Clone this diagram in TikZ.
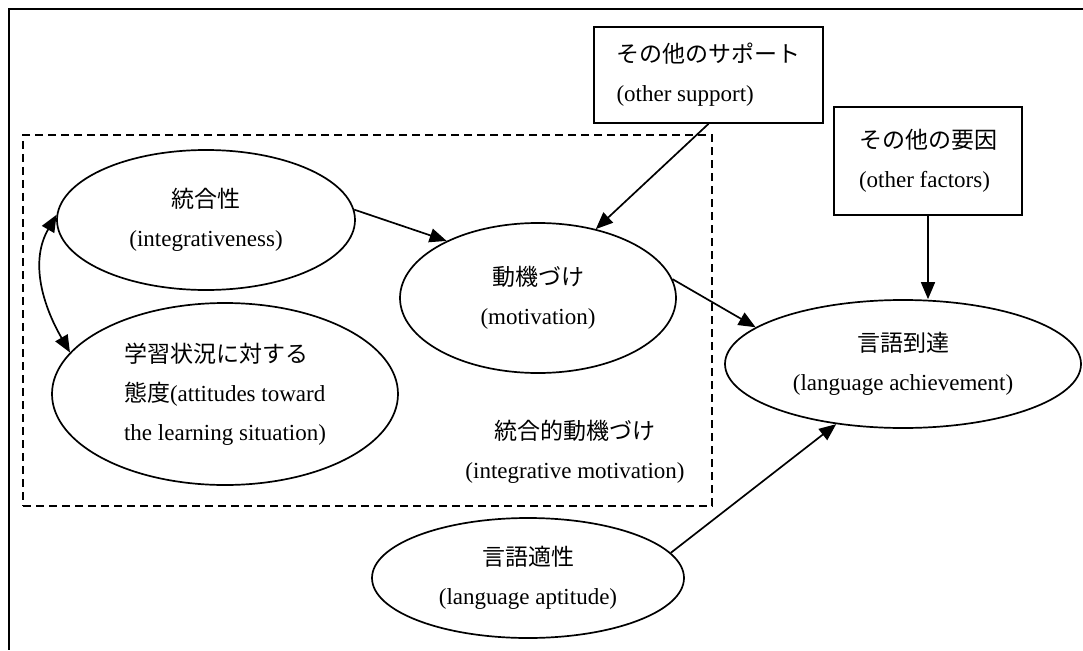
\documentclass[tikz,border=0pt]{standalone}
\usepackage{fontspec}
\setmainfont{Liberation Serif}
\newfontfamily\jp{Noto Sans CJK JP}
\usetikzlibrary{arrows.meta,shapes.geometric}
\begin{document}
\begin{tikzpicture}[x=1pt,y=-1pt,
  txt/.style={font=\fontsize{23}{39}\selectfont},
  ell/.style={draw, ellipse, line width=1.7pt, inner sep=0pt, align=center, txt},
  boxn/.style={draw, rectangle, line width=1.7pt, inner sep=0pt, align=left, txt},
  arr/.style={-{Triangle[length=17pt,width=14pt]}, line width=1.7pt},
  biarr/.style={{Triangle[length=17pt,width=14pt]}-{Triangle[length=17pt,width=14pt]}, line width=1.7pt},
  frameline/.style={line width=2.4pt},
  dashbox/.style={draw, rectangle, dash pattern=on 8pt off 5pt, line width=1.7pt, inner sep=0pt},
  lbl/.style={align=center, inner sep=0pt, txt}]
\useasboundingbox (0,0) rectangle (1083,650);
% outer frame (top and left)
\coordinate (ftr) at (1083,9);
\coordinate (ftl) at (9,9);
\coordinate (fbl) at (9,650);
\draw[frameline] (ftr) -- (ftl) -- (fbl);
% dashed group
\node[dashbox, minimum width=689pt, minimum height=371pt] (imbox) at (367.5,320.5) {};
% ellipses
\node[ell, minimum width=298pt, minimum height=140pt] (int) at (206,220)
  {{\jp 統合性}\\(integrativeness)};
\node[ell, align=left, minimum width=346pt, minimum height=182pt] (att) at (225,394)
  {{\jp 学習状況に対する}\\{\jp 態度}(attitudes toward\\the learning situation)};
\node[ell, minimum width=276pt, minimum height=150pt] (mot) at (538,298)
  {{\jp 動機づけ}\\(motivation)};
\node[ell, minimum width=356pt, minimum height=128pt] (ach) at (903,364)
  {{\jp 言語到達}\\(language achievement)};
\node[ell, minimum width=312pt, minimum height=120pt] (apt) at (528,578)
  {{\jp 言語適性}\\(language aptitude)};
% boxes
\node[boxn, minimum width=229pt, minimum height=96pt] (sup) at (708.5,75)
  {{\jp その他のサポート}\\(other support)};
\node[boxn, minimum width=188pt, minimum height=108pt] (fac) at (928,161)
  {{\jp その他の要因}\\(other factors)};
% group label
\node[lbl] (im) at (575,452) {{\jp 統合的動機づけ}\\(integrative motivation)};
% connectors
\draw[arr] (int.4) -- (mot.148.6);
\draw[arr] (sup.south) -- (mot.50.4);
\draw[arr] (mot.8.4) -- (ach.166.3);
\draw[arr] (fac.south) -- (fac.south |- ach.north);
\draw[arr] (apt.10.4) -- (ach.222);
\draw[biarr] (int.178) to[out=240,in=120] (att.165.5);
\end{tikzpicture}
\end{document}
